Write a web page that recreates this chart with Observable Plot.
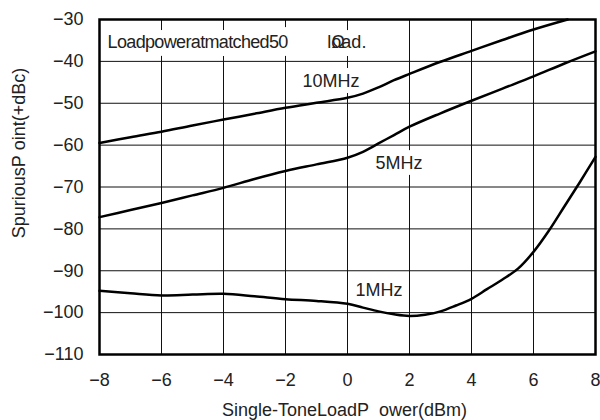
<!DOCTYPE html>
<html>
<head>
<meta charset="utf-8">
<script src="https://cdn.jsdelivr.net/npm/d3@7"></script>
<script src="https://cdn.jsdelivr.net/npm/@observablehq/plot@0.6"></script>
<style>
  html, body { margin: 0; padding: 0; background: #fff; }
  #chart { width: 600px; height: 420px; }
</style>
</head>
<body>
<div id="chart"></div>
<script>
// ---- data ----
const x10 = [-8, -7, -6, -5, -4, -3, -2, -1, 0, 0.5, 1, 1.5, 2, 3, 4, 5, 6, 7.1];
const y10 = [-59.5, -58.1, -56.8, -55.3, -53.9, -52.5, -51.1, -49.9, -48.7, -47.7, -46.2, -44.5, -43.0, -40.1, -37.5, -34.9, -32.4, -30.0];

const x5 = [-8, -7, -6, -5, -4, -3, -2, -1, 0, 0.5, 1, 1.5, 2, 3, 4, 5, 6, 7, 8];
const y5 = [-77.2, -75.5, -73.8, -72.0, -70.2, -68.1, -66.2, -64.6, -63.0, -61.6, -59.6, -57.6, -55.6, -52.4, -49.4, -46.5, -43.6, -40.5, -37.6];

const x1 = [-8, -7, -6, -5, -4, -3, -2, -1, 0, 0.5, 1, 1.5, 2, 2.5, 3, 3.5, 4, 4.5, 5, 5.5, 6, 6.5, 7, 7.5, 8];
const y1 = [-94.8, -95.4, -95.9, -95.7, -95.5, -96.1, -96.8, -97.2, -97.9, -98.8, -99.7, -100.4, -100.8, -100.5, -99.7, -98.3, -96.7, -94.4, -92.1, -89.5, -85.5, -80.4, -74.6, -68.8, -62.8];

const xTicks = [-8, -6, -4, -2, 0, 2, 4, 6, 8];
const yTicks = [-30, -40, -50, -60, -70, -80, -90, -100, -110];

const seriesNames = ["10MHz", "5MHz", "1MHz"];
const labelX = [-1.45, 0.9, 0.26];
const labelY = [-44.7, -64.4, -94.7];

const noteText = "Loadpoweratmatched50";
const noteX = -7.74, noteY = -35.5;
const loadText = "load.";
const loadX = -0.65;
const omegaText = "Ω";
const omegaX = -0.52;

const xTitle = "Single-ToneLoadP\u00a0\u00a0ower(dBm)";
const yTitle = "SpuriousP\u00a0oint(+dBc)";

// ---- build ----
const toRows = (xs, ys, name) => xs.map((x, i) => ({x, y: ys[i], name}));
const rows = [
  ...toRows(x10, y10, "10MHz"),
  ...toRows(x5, y5, "5MHz"),
  ...toRows(x1, y1, "1MHz")
];
const labels = seriesNames.map((n, i) => ({name: n, x: labelX[i], y: labelY[i]}));

const FS = 18;
const chart = Plot.plot({
  width: 600,
  height: 420,
  marginLeft: 99,
  marginRight: 5,
  marginTop: 19,
  marginBottom: 66,
  style: {fontFamily: "'Liberation Sans', Arial, sans-serif", fontSize: "18px", color: "#222", background: "#fff"},
  x: {domain: [-8, 8], ticks: xTicks, tickSize: 0, tickPadding: 19, label: null},
  y: {domain: [-110, -30], ticks: yTicks, tickSize: 0, tickPadding: 16, label: null},
  marks: [
    Plot.ruleX(xTicks.slice(1, -1), {stroke: "#111", strokeWidth: 1}),
    Plot.ruleY(yTicks.slice(1, -1), {stroke: "#111", strokeWidth: 1}),
    Plot.text([noteText], {x: noteX, y: noteY, text: d => d, textAnchor: "start", fill: "#222", stroke: "white", strokeWidth: 16, paintOrder: "stroke", fontSize: FS}),
    Plot.text([loadText], {x: loadX, y: noteY, text: d => d, textAnchor: "start", fill: "#222", stroke: "white", strokeWidth: 16, paintOrder: "stroke", fontSize: FS}),
    Plot.text([omegaText], {x: omegaX, y: noteY, text: d => d, textAnchor: "start", fill: "#222", fontSize: FS}),
    Plot.text(labels, {x: "x", y: "y", text: "name", textAnchor: "start", fill: "#222", stroke: "white", strokeWidth: 12, paintOrder: "stroke", fontSize: FS}),
    Plot.line(rows, {x: "x", y: "y", z: "name", stroke: "black", strokeWidth: 2.5, curve: "catmull-rom"}),
    Plot.frame({stroke: "black", strokeWidth: 2.5}),
    Plot.text([xTitle], {frameAnchor: "bottom", dy: 56, dx: -3, textAnchor: "middle", lineAnchor: "middle", text: d => d, fill: "#222", fontSize: FS}),
    Plot.text([yTitle], {frameAnchor: "left", rotate: -90, dx: -80, dy: -34, textAnchor: "middle", lineAnchor: "middle", text: d => d, fill: "#222", fontSize: FS})
  ]
});
d3.select(chart).selectAll("text")
  .filter(function() { return this.textContent === noteText; })
  .attr("letter-spacing", "-0.65");
document.getElementById("chart").appendChild(chart);
</script>
</body>
</html>
